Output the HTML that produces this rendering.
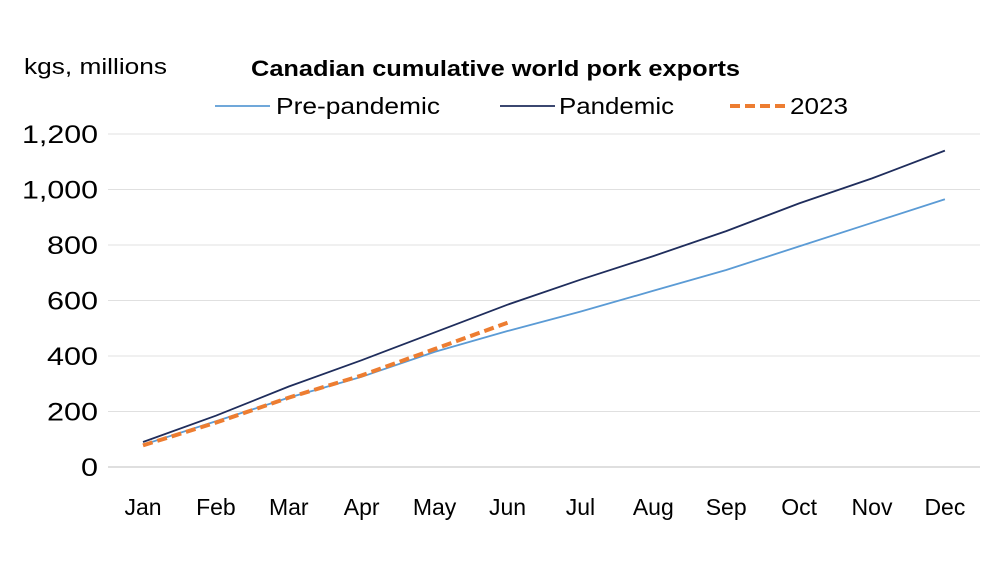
<!DOCTYPE html>
<html><head><meta charset="utf-8"><style>
body{margin:0;background:#fff;font-family:"Liberation Sans",sans-serif}
</style></head><body>
<svg id="chart" width="992" height="558" xmlns="http://www.w3.org/2000/svg" font-family="Liberation Sans, sans-serif">
<rect width="992" height="558" fill="#fff"/>
<text x="24" y="74" font-size="22" textLength="143" lengthAdjust="spacingAndGlyphs" fill="#000">kgs, millions</text>
<text x="251" y="76" font-size="22" font-weight="bold" textLength="489" lengthAdjust="spacingAndGlyphs" fill="#000">Canadian cumulative world pork exports</text>
<g>
<line x1="215" y1="106" x2="270" y2="106" stroke="#5b9bd5" stroke-width="1.8"/>
<text x="276" y="114" font-size="23" textLength="164" lengthAdjust="spacingAndGlyphs">Pre-pandemic</text>
<line x1="500" y1="106" x2="555" y2="106" stroke="#1f2d5c" stroke-width="1.8"/>
<text x="559" y="114" font-size="23" textLength="115" lengthAdjust="spacingAndGlyphs">Pandemic</text>
<line x1="730" y1="106" x2="785" y2="106" stroke="#ed7d31" stroke-width="4" stroke-dasharray="10,5"/>
<text x="790" y="114" font-size="23" textLength="58" lengthAdjust="spacingAndGlyphs">2023</text>
</g>
<g id="grid"></g><g id="series"></g><g id="labels"></g>
</svg>
<script>
const months=["Jan","Feb","Mar","Apr","May","Jun","Jul","Aug","Sep","Oct","Nov","Dec"];
const yTicks=[0,200,400,600,800,1000,1200];
const yTickLabels=["0","200","400","600","800","1,000","1,200"];
const prePandemic=[80,165,250,325,415,490,560,635,710,795,880,965];
const pandemic=[90,185,290,385,485,585,675,760,850,950,1040,1140];
const y2023=[78,160,250,330,425,520];
const NS="http://www.w3.org/2000/svg";
const x=i=>143+i*72.9;
const y=v=>467-v*(333/1200);
function mk(t,a,p){const e=document.createElementNS(NS,t);for(const k in a)e.setAttribute(k,a[k]);p.appendChild(e);return e;}
const grid=document.getElementById('grid'),labels=document.getElementById('labels'),series=document.getElementById('series');
yTicks.forEach((v,i)=>{
 const l=mk('line',{x1:108,x2:980,y1:y(v),y2:y(v),stroke:v===0?'#bfbfbf':'#e0e0e0','stroke-width':1},grid);
 
 
 const s=yTickLabels[i];
 const len=s.replace(/,/g,'').length*17+(s.includes(',')?8:0);
 const t=mk('text',{x:98,y:y(v)+9,'font-size':25,'text-anchor':'end',textLength:len,lengthAdjust:'spacingAndGlyphs'},labels);
 t.textContent=s;
 
 
});
months.forEach((m,i)=>{
 const t=mk('text',{x:x(i),y:515,'font-size':23,'text-anchor':'middle'},labels);
 t.textContent=m;
 
 
});
function line(d,attrs,name){
 const p=mk('polyline',Object.assign({points:d.map((v,i)=>x(i)+','+y(v)).join(' '),fill:'none'},attrs),series);
 
 
}
line(prePandemic,{stroke:'#5b9bd5','stroke-width':1.8},'pre-pandemic-line');
line(pandemic,{stroke:'#1f2d5c','stroke-width':1.8},'pandemic-line');
line(y2023,{stroke:'#ed7d31','stroke-width':4,'stroke-dasharray':'10,5'},'line-2023');
</script>
</body></html>
